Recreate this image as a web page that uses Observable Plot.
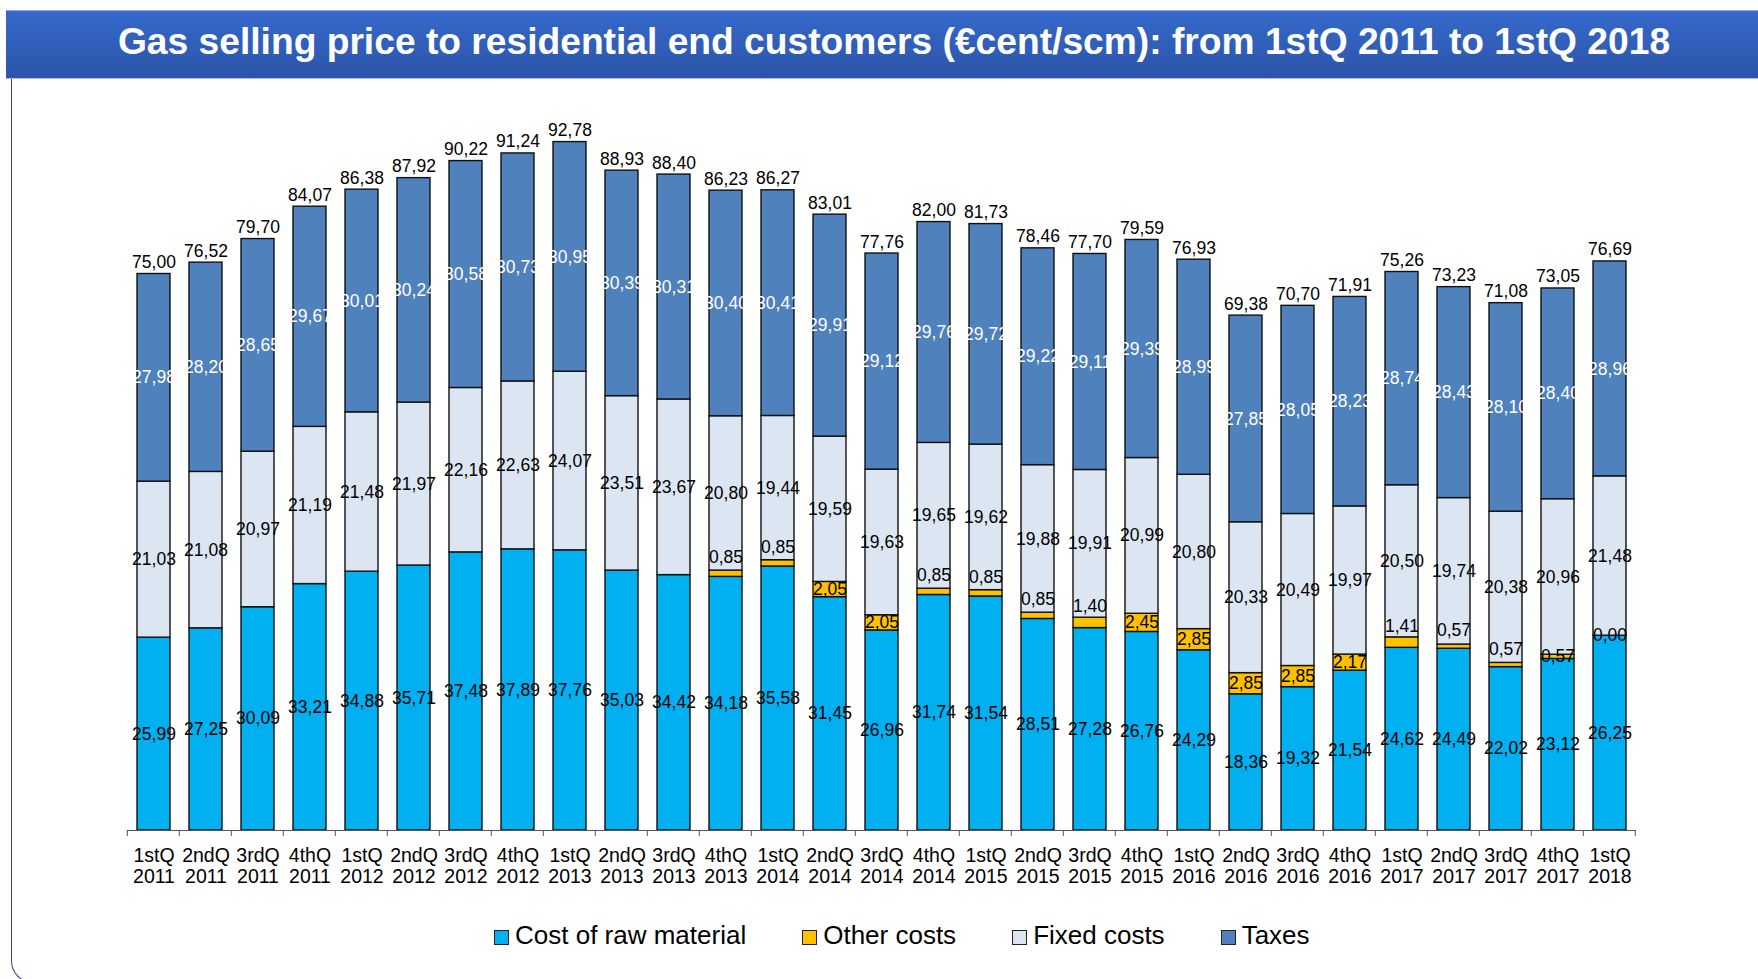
<!DOCTYPE html>
<html>
<head>
<meta charset="utf-8">
<script src="https://cdn.jsdelivr.net/npm/d3@7"></script>
<script src="https://cdn.jsdelivr.net/npm/@observablehq/plot@0.6"></script>
<style>
  html, body { margin: 0; padding: 0; background: #fff; }
  #page { position: relative; width: 1758px; height: 979px; overflow: hidden; background: #fff; font-family: "Liberation Sans", Arial, sans-serif; }
  #frame { position: absolute; left: 11px; top: 60px; width: 300px; height: 923px; border-left: 1.5px solid #3b3b9b; border-bottom: 1.5px solid #3b3b9b; border-bottom-left-radius: 22px; box-sizing: border-box; z-index: 1; }
  #banner { position: absolute; left: 6px; top: 10px; width: 1752px; height: 69px; background: linear-gradient(#3569cc, #2c54a7); border-top: 1px solid #8fa9df; border-bottom: 1.5px solid #a9bde6; box-sizing: border-box; z-index: 3; }
  #title { position: absolute; left: 30px; width: 1728px; top: 19px; text-align: center; color: #fff; font-weight: bold; font-size: 37.2px; line-height: 44px; white-space: nowrap; z-index: 4; }
  #chart { position: absolute; left: 0; top: 0; z-index: 2; }
  #legend { position: absolute; left: 494px; top: 922px; display: flex; gap: 56px; z-index: 2; font-size: 26px; line-height: 26px; color: #000; }
  .item { display: flex; align-items: flex-start; white-space: nowrap; }
  .sw { width: 13px; height: 13px; border: 1px solid #222; margin-top: 8px; margin-right: 6px; }
</style>
</head>
<body>
<div id="page">
  <div id="frame"></div>
  <div id="banner"></div>
  <div id="title">Gas selling price to residential end customers (€cent/scm): from 1stQ 2011 to 1stQ 2018</div>
  <div id="chart"></div>
  <div id="legend"></div>
</div>
<script>
// ---- data ----
const quarters = ["1stQ","2ndQ","3rdQ","4thQ","1stQ","2ndQ","3rdQ","4thQ","1stQ","2ndQ","3rdQ","4thQ","1stQ","2ndQ","3rdQ","4thQ","1stQ","2ndQ","3rdQ","4thQ","1stQ","2ndQ","3rdQ","4thQ","1stQ","2ndQ","3rdQ","4thQ","1stQ"];
const years = ["2011","2011","2011","2011","2012","2012","2012","2012","2013","2013","2013","2013","2014","2014","2014","2014","2015","2015","2015","2015","2016","2016","2016","2016","2017","2017","2017","2017","2018"];
const rawMaterial = [25.99,27.25,30.09,33.21,34.88,35.71,37.48,37.89,37.76,35.03,34.42,34.18,35.58,31.45,26.96,31.74,31.54,28.51,27.28,26.76,24.29,18.36,19.32,21.54,24.62,24.49,22.02,23.12,26.25];
const otherCosts = [0,0,0,0,0,0,0,0,0,0,0,0.85,0.85,2.05,2.05,0.85,0.85,0.85,1.40,2.45,2.85,2.85,2.85,2.17,1.41,0.57,0.57,0.57,0.00];
const fixedCosts = [21.03,21.08,20.97,21.19,21.48,21.97,22.16,22.63,24.07,23.51,23.67,20.80,19.44,19.59,19.63,19.65,19.62,19.88,19.91,20.99,20.80,20.33,20.49,19.97,20.50,19.74,20.38,20.96,21.48];
const taxes = [27.98,28.20,28.65,29.67,30.01,30.24,30.58,30.73,30.95,30.39,30.31,30.40,30.41,29.91,29.12,29.76,29.72,29.22,29.11,29.39,28.99,27.85,28.05,28.23,28.74,28.43,28.10,28.40,28.96];
const totals = [75.00,76.52,79.70,84.07,86.38,87.92,90.22,91.24,92.78,88.93,88.40,86.23,86.27,83.01,77.76,82.00,81.73,78.46,77.70,79.59,76.93,69.38,70.70,71.91,75.26,73.23,71.08,73.05,76.69];
const seriesNames = ["Cost of raw material","Other costs","Fixed costs","Taxes"];
const seriesColors = ["#00b0f0","#ffc000","#dce6f2","#4f81bd"];

// ---- build table ----
const categories = quarters.map((q, i) => q + "\n" + years[i]);
const seriesValues = [rawMaterial, otherCosts, fixedCosts, taxes];
const rows = [];
categories.forEach((c, i) => {
  seriesNames.forEach((s, k) => rows.push({cat: c, i, series: s, k, value: seriesValues[k][i]}));
});
const fmt = v => v.toFixed(2).replace(".", ",");
const PAD_INNER = 0.373, PAD_OUTER = 0.186;

// other-costs labels: shown from 4thQ 2013; small values sit just above the thin segment
const otherShown = r => r.k === 1 && r.i >= 11;
const otherAbove = r => otherShown(r) && r.value < 2 && r.i < 27;

function boundaryTicks(index, scales) {
  const x = scales.x, y = scales.y;
  const step = x(categories[1]) - x(categories[0]);
  const half = step * PAD_INNER / 2;
  const y0 = y(0);
  const g = d3.create("svg:g").attr("stroke", "#555").attr("stroke-width", 1);
  const xs = categories.map(c => x(c) - half);
  xs.push(x(categories[categories.length - 1]) + step * (1 - PAD_INNER) + half);
  xs.forEach(px => g.append("line").attr("x1", px).attr("x2", px).attr("y1", y0).attr("y2", y0 + 6));
  return g.node();
}

const chart = Plot.plot({
  width: 1758,
  height: 890,
  marginTop: 88,
  marginBottom: 60,
  marginLeft: 127,
  marginRight: 122,
  style: {fontFamily: "'Liberation Sans', Arial, sans-serif", background: "transparent", overflow: "visible"},
  x: {domain: categories, paddingInner: PAD_INNER, paddingOuter: PAD_OUTER, axis: null},
  y: {domain: [0, 100], axis: null},
  color: {domain: seriesNames, range: seriesColors},
  marks: [
    Plot.barY(rows, Plot.stackY({x: "cat", y: "value", z: "series", fill: "series", stroke: "#111", strokeWidth: 1.4})),
    Plot.ruleY([0], {stroke: "#555", strokeWidth: 1}),
    boundaryTicks,
    Plot.axisX({tickSize: 0, tickPadding: 16, fontSize: 19.5, lineHeight: 1.1, label: null, fill: "#000"}),
    // raw material & fixed costs labels (black)
    Plot.text(rows, Plot.stackY({x: "cat", y: "value", z: "series",
      text: r => (r.k === 0 || r.k === 2) ? fmt(r.value) : "", fill: "#000", fontSize: 17.5})),
    // taxes labels (white)
    Plot.text(rows, Plot.stackY({x: "cat", y: "value", z: "series",
      text: r => r.k === 3 ? fmt(r.value) : "", fill: "#fff", fontSize: 17.5})),
    // other costs labels inside the segment
    Plot.text(rows, Plot.stackY({x: "cat", y: "value", z: "series",
      text: r => otherShown(r) && !otherAbove(r) ? fmt(r.value) : "", fill: "#000", fontSize: 17.5})),
    // other costs labels just above the thin segment
    Plot.text(rows, Plot.stackY({x: "cat", y: "value", z: "series",
      text: r => otherAbove(r) ? fmt(r.value) : "", fill: "#000", fontSize: 17.5, dy: -16})),
    // totals
    Plot.text(categories, {x: d => d, y: (d, i) => totals[i], text: (d, i) => fmt(totals[i]),
      lineAnchor: "bottom", dy: -6, fill: "#000", fontSize: 17.5})
  ]
});
document.getElementById("chart").appendChild(chart);

// legend
const legend = d3.select("#legend");
seriesNames.forEach((s, k) => {
  const it = legend.append("div").attr("class", "item");
  it.append("div").attr("class", "sw").style("background", seriesColors[k]);
  it.append("span").text(s);
});
</script>
</body>
</html>
